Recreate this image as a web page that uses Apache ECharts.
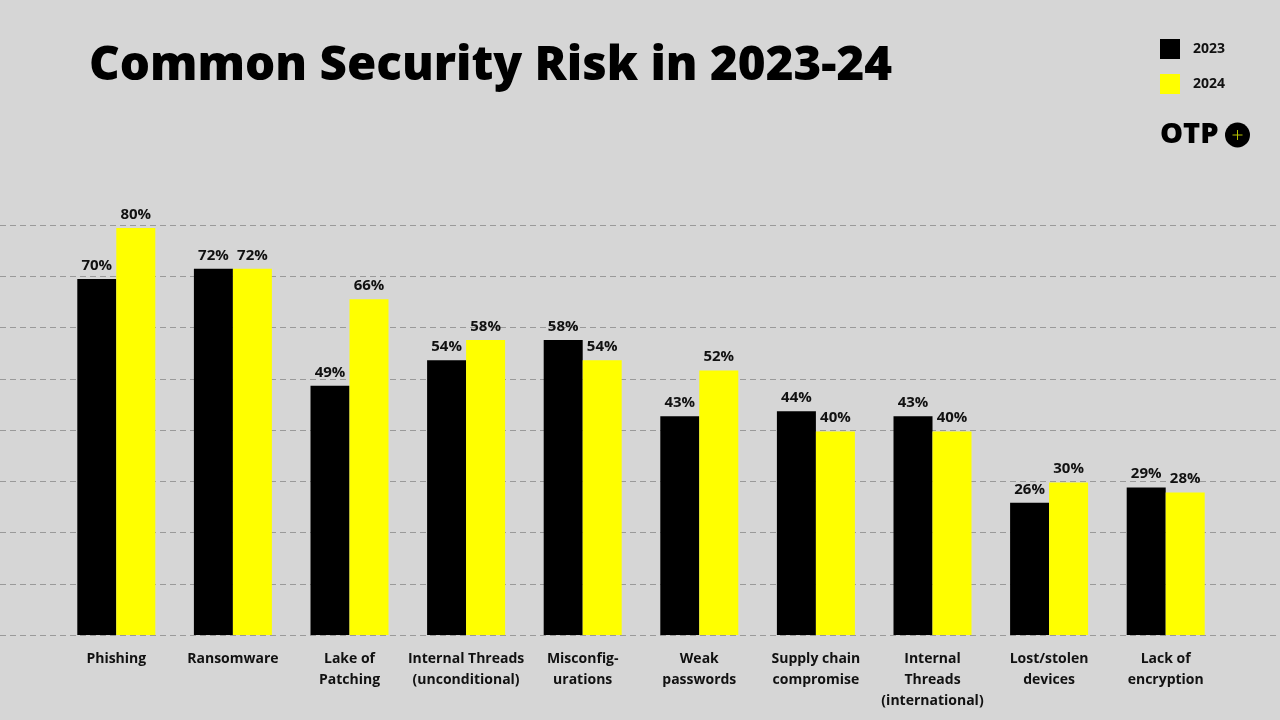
<!DOCTYPE html>
<html><head><meta charset="utf-8">
<script src="https://cdn.jsdelivr.net/npm/echarts@6/dist/echarts.min.js"></script>
<style>html,body{margin:0;padding:0;background:#d6d6d6}#c{width:1280px;height:720px}</style>
</head><body><div id="c"></div>
<script>
const categories = ["Phishing","Ransomware","Lake of\nPatching","Internal Threads\n(unconditional)","Misconfig-\nurations","Weak\npasswords","Supply chain\ncompromise","Internal\nThreads\n(international)","Lost/stolen\ndevices","Lack of\nencryption"];
const values2023 = [70,72,49,54,58,43,44,43,26,29];
const values2024 = [80,72,66,58,54,52,40,40,30,28];
const seriesNames = ["2023","2024"];

const chart = echarts.init(document.getElementById('c'), null, {renderer:'canvas'});
const FONT = 'Open Sans';
const labelCfg = {show:true, position:'top', distance:6, formatter:p=>p.value+'%', color:'#111', fontFamily:FONT, fontWeight:700, fontSize:15};
chart.setOption({
  backgroundColor:'#d6d6d6',
  animation:false,
  title:{text:'Common Security Risk in 2023-24', left:89, top:42, padding:0, textStyle:{fontFamily:FONT, fontWeight:800, fontSize:47.5, color:'#000'}},
  legend:{orient:'vertical', left:1160, top:39, padding:0, itemWidth:20, itemHeight:20, itemGap:15, icon:'rect', data:seriesNames,
    textStyle:{fontFamily:FONT, fontWeight:700, fontSize:14, color:'#111', padding:[0,0,0,8]}},
  grid:[{left:58, right:56, top:225, bottom:85},{left:0, right:0, top:225, bottom:85}],
  xAxis:[
    {type:'category', gridIndex:0, data:categories, axisLine:{show:false}, axisTick:{show:false},
     axisLabel:{margin:14, interval:0, fontFamily:FONT, fontWeight:700, fontSize:14, color:'#111', lineHeight:21}},
    {type:'value', gridIndex:1, min:0, max:1, show:false}
  ],
  yAxis:[
    {type:'value', gridIndex:0, min:0, max:80.6, show:false, splitLine:{show:false}},
    {type:'value', gridIndex:1, min:0, max:80, interval:10, axisLine:{show:false}, axisTick:{show:false}, axisLabel:{show:false},
     splitLine:{show:true, lineStyle:{color:'#9a9a9a', type:[6,4], width:1}}}
  ],
  series:[
    {name:seriesNames[0], type:'bar', xAxisIndex:0, yAxisIndex:0, data:values2023, barWidth:39, barGap:'0%', itemStyle:{color:'#000'}, label:labelCfg, z:3},
    {name:seriesNames[1], type:'bar', xAxisIndex:0, yAxisIndex:0, data:values2024, barWidth:39, barGap:'0%', itemStyle:{color:'#ffff00'}, label:labelCfg, z:3}
  ],
  graphic:[
    {type:'text', left:1160, top:120, style:{text:'OTP', fontFamily:FONT, fontWeight:800, fontSize:29, fill:'#000'}},
    {type:'circle', shape:{cx:1237.5, cy:135, r:12.5}, style:{fill:'#000'}},
    {type:'line', shape:{x1:1232.5, y1:135, x2:1242.5, y2:135}, style:{stroke:'#b8c400', lineWidth:1}},
    {type:'line', shape:{x1:1237.5, y1:130, x2:1237.5, y2:140}, style:{stroke:'#b8c400', lineWidth:1}}
  ]
});
</script></body></html>
